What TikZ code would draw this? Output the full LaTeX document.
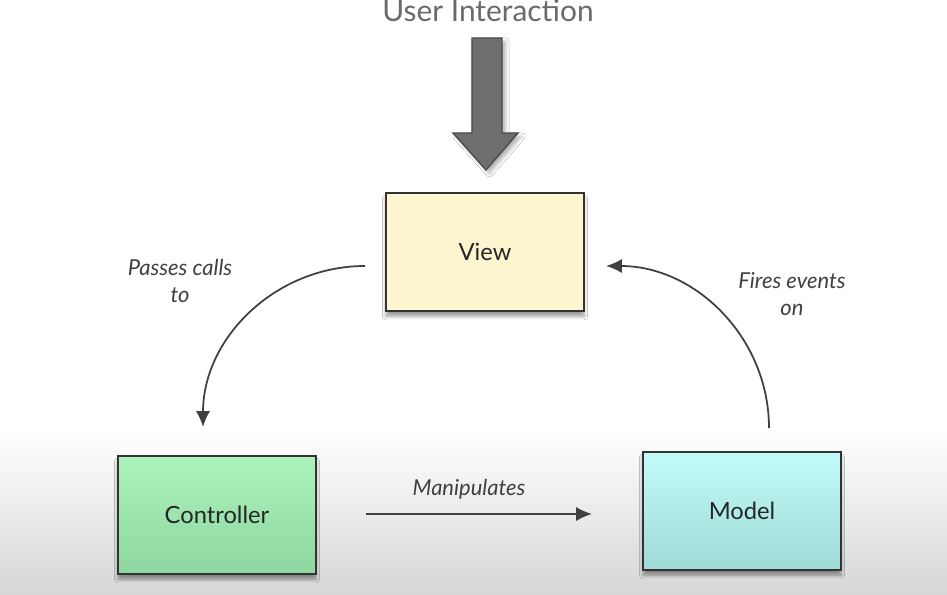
\documentclass[tikz,border=0pt]{standalone}
\usepackage{fontspec}
\setmainfont{Lato}
\usetikzlibrary{shadows.blur,arrows.meta}
\definecolor{viewfill}{HTML}{FCF5D0}
\definecolor{ctrltop}{HTML}{ACF4BC}
\definecolor{ctrlbot}{HTML}{8ED6A0}
\definecolor{modtop}{HTML}{C2FCF8}
\definecolor{modbot}{HTML}{9EDAD6}
\definecolor{bigarrow}{HTML}{6E6E6E}
\definecolor{txtgray}{HTML}{6A6A6A}
\tikzset{
  box/.style={draw=black!80, line width=1.4pt, minimum width=198*0.02cm, minimum height=118*0.02cm,
    font=\fontsize{13.5}{16}\selectfont, text=black!85,
    blur shadow={shadow xshift=0pt, shadow yshift=-3pt, shadow blur steps=6, shadow opacity=40}},
  conn/.style={draw=black!75, line width=1pt, -{Latex[length=9pt,width=8pt]}},
  lbl/.style={font=\fontsize{12.5}{15}\selectfont\itshape, text=black!75, align=center}
}
\begin{document}
\begin{tikzpicture}[x=0.02cm,y=-0.02cm]
\useasboundingbox (0,0) rectangle (947,595);
\fill[white] (0,0) rectangle (947,430);
\shade[top color=white, bottom color=black!16] (0,430) rectangle (947,595);
% title
\node[font=\fontsize{17}{20}\selectfont, text=txtgray] (ui) at (488,11) {User Interaction};
% big arrow
\filldraw[fill=bigarrow, draw=black!70, line width=0.8pt,
  blur shadow={shadow xshift=2pt, shadow yshift=-2pt, shadow opacity=30}]
  (472,38) -- (502,38) -- (502,133) -- (518,133) -- (486,170) -- (453,133) -- (472,133) -- cycle;
% boxes
\node[box, fill=viewfill] (view) at (485,252) {View};
\node[box, top color=ctrltop, bottom color=ctrlbot] (ctrl) at (217,515) {Controller};
\node[box, top color=modtop, bottom color=modbot] (model) at (742,511) {Model};
% connectors
\coordinate (p1) at (365,266);
\coordinate (p2) at (203,427);
\draw[conn] (p1) to[out=180,in=90] (p2);
\coordinate (f1) at (769,428);
\coordinate (f2) at (606,266);
\draw[conn] (f1) to[out=90,in=0] (f2);
\coordinate (m1) at (366,514);
\coordinate (m2) at (592,514);
\draw[conn] (m1) -- (m2);
% labels
\node[lbl] (lp) at (180,281) {Passes calls\\to};
\node[lbl] (lf) at (792,294) {Fires events\\on};
\node[lbl] (lm) at (469,489) {Manipulates};
\end{tikzpicture}
\end{document}
